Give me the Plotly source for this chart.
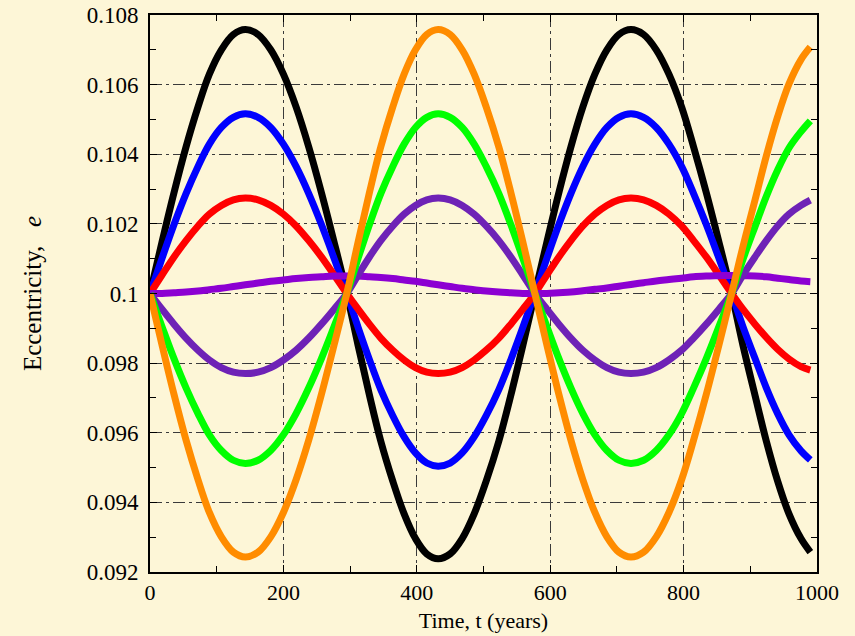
import plotly.graph_objects as go

# Time samples (years)
t = [0, 18, 36, 54, 72, 89, 107, 125, 143,
     162, 181, 200, 219, 238, 257, 276, 295,
     312, 329, 346, 364, 381, 398, 415, 432,
     450, 468, 486, 504, 523, 541, 559, 577,
     595, 613, 631, 649, 667, 685, 703, 721,
     740, 759, 778, 797, 815, 834, 853, 872,
     889, 907, 924, 941, 958, 976, 990]

black = [0.1, 0.10148, 0.1029, 0.10421, 0.10536, 0.1063, 0.107, 0.10744, 0.10758,
         0.10744, 0.107, 0.1063, 0.10536, 0.10421, 0.1029, 0.10148, 0.1,
         0.09851, 0.09708, 0.09576, 0.09461, 0.09367, 0.09296, 0.09252, 0.09238,
         0.09252, 0.09296, 0.09367, 0.09461, 0.09576, 0.09708, 0.09851, 0.1,
         0.10148, 0.1029, 0.10421, 0.10536, 0.1063, 0.107, 0.10744, 0.10758,
         0.10744, 0.107, 0.1063, 0.10536, 0.10421, 0.1029, 0.10148, 0.1,
         0.09851, 0.09708, 0.09576, 0.09461, 0.09367, 0.09296, 0.09257]
blue = [0.1, 0.10101, 0.10198, 0.10287, 0.10365, 0.10429, 0.10477, 0.10506, 0.10516,
        0.10506, 0.10477, 0.10429, 0.10365, 0.10287, 0.10198, 0.10101, 0.1,
        0.09903, 0.0981, 0.09724, 0.09649, 0.09588, 0.09542, 0.09513, 0.09504,
        0.09513, 0.09542, 0.09588, 0.09649, 0.09724, 0.0981, 0.09903, 0.1,
        0.10101, 0.10198, 0.10287, 0.10365, 0.10429, 0.10477, 0.10506, 0.10516,
        0.10506, 0.10477, 0.10429, 0.10365, 0.10287, 0.10198, 0.10101, 0.1,
        0.09905, 0.09814, 0.09729, 0.09655, 0.09594, 0.09548, 0.09522]
red = [0.1, 0.10053, 0.10105, 0.10152, 0.10194, 0.10228, 0.10253, 0.10269, 0.10274,
       0.10269, 0.10253, 0.10228, 0.10194, 0.10152, 0.10105, 0.10053, 0.1,
       0.09955, 0.09912, 0.09872, 0.09837, 0.09809, 0.09787, 0.09774, 0.0977,
       0.09774, 0.09787, 0.09809, 0.09837, 0.09872, 0.09912, 0.09955, 0.1,
       0.10053, 0.10105, 0.10152, 0.10194, 0.10228, 0.10253, 0.10269, 0.10274,
       0.10269, 0.10253, 0.10228, 0.10194, 0.10152, 0.10105, 0.10053, 0.1,
       0.09955, 0.09912, 0.09874, 0.0984, 0.09812, 0.0979, 0.0978]
violet = [0.1, 0.1, 0.10002, 0.10004, 0.10007, 0.10011, 0.10015, 0.1002, 0.10025,
          0.1003, 0.10035, 0.10039, 0.10043, 0.10046, 0.10048, 0.1005, 0.1005,
          0.1005, 0.10048, 0.10046, 0.10043, 0.10039, 0.10035, 0.1003, 0.10025,
          0.1002, 0.10015, 0.10011, 0.10007, 0.10004, 0.10002, 0.1, 0.1,
          0.1, 0.10002, 0.10004, 0.10008, 0.10012, 0.10016, 0.10021, 0.10026,
          0.10031, 0.10036, 0.1004, 0.10044, 0.10048, 0.1005, 0.10051, 0.10052,
          0.10051, 0.1005, 0.10048, 0.10044, 0.1004, 0.10036, 0.10034]
purple = [0.1, 0.09955, 0.09912, 0.09872, 0.09837, 0.09809, 0.09787, 0.09774, 0.0977,
          0.09774, 0.09787, 0.09809, 0.09837, 0.09872, 0.09912, 0.09955, 0.1,
          0.10053, 0.10105, 0.10152, 0.10194, 0.10228, 0.10253, 0.10269, 0.10274,
          0.10269, 0.10253, 0.10228, 0.10194, 0.10152, 0.10105, 0.10053, 0.1,
          0.09955, 0.09912, 0.09872, 0.09837, 0.09809, 0.09787, 0.09774, 0.0977,
          0.09774, 0.09787, 0.09809, 0.09837, 0.09872, 0.09912, 0.09955, 0.1,
          0.10053, 0.10105, 0.10152, 0.10194, 0.10228, 0.10253, 0.10268]
green = [0.1, 0.09905, 0.09813, 0.09729, 0.09655, 0.09594, 0.09549, 0.09521, 0.09512,
         0.09521, 0.09549, 0.09594, 0.09655, 0.09729, 0.09813, 0.09905, 0.1,
         0.10101, 0.10198, 0.10287, 0.10365, 0.10429, 0.10477, 0.10506, 0.10516,
         0.10506, 0.10477, 0.10429, 0.10365, 0.10287, 0.10198, 0.10101, 0.1,
         0.09905, 0.09813, 0.09729, 0.09655, 0.09594, 0.09549, 0.09521, 0.09512,
         0.09521, 0.09549, 0.09594, 0.09655, 0.09729, 0.09813, 0.09905, 0.1,
         0.10098, 0.10192, 0.10279, 0.10355, 0.10418, 0.10465, 0.10496]
orange = [0.1, 0.09852, 0.0971, 0.09579, 0.09465, 0.09371, 0.09301, 0.09257, 0.09243,
          0.09257, 0.09301, 0.09371, 0.09465, 0.09579, 0.0971, 0.09852, 0.1,
          0.10148, 0.1029, 0.10421, 0.10536, 0.1063, 0.107, 0.10744, 0.10758,
          0.10744, 0.107, 0.1063, 0.10536, 0.10421, 0.1029, 0.10148, 0.1,
          0.09852, 0.0971, 0.09579, 0.09465, 0.09371, 0.09301, 0.09257, 0.09243,
          0.09257, 0.09301, 0.09371, 0.09465, 0.09579, 0.0971, 0.09852, 0.1,
          0.10135, 0.10268, 0.10395, 0.10508, 0.10602, 0.10672, 0.10708]

x_tickvals = [0, 200, 400, 600, 800, 1000]
x_ticktext = ["0", "200", "400", "600", "800", "1000"]
y_tickvals = [0.092, 0.094, 0.096, 0.098, 0.1, 0.102, 0.104, 0.106, 0.108]
y_ticktext = ["0.092", "0.094", "0.096", "0.098", "0.1", "0.102", "0.104", "0.106", "0.108"]

series = [
    (black, "#000000"),
    (blue, "#0000ff"),
    (red, "#ff0000"),
    (violet, "#8c00d2"),
    (purple, "#6e22b6"),
    (green, "#00ff00"),
    (orange, "#ff8c00"),
]

BG = "#FDF6D7"
FONT = "Liberation Serif"

fig = go.Figure()
for ys, col in series:
    n = min(len(t), len(ys))
    fig.add_trace(go.Scatter(x=t[:n], y=ys[:n], mode="lines",
                             line=dict(color=col, width=7, shape="spline", smoothing=1.0),
                             showlegend=False, hoverinfo="skip"))

grid_dash = "12px,4px,3px,4px"
fig.update_layout(
    width=855, height=636,
    margin=dict(l=150, r=38, t=15, b=64),
    paper_bgcolor=BG, plot_bgcolor=BG,
    font=dict(family=FONT, size=22, color="black"),
    showlegend=False,
)
fig.update_xaxes(
    range=[0, 1000], tickvals=x_tickvals, ticktext=x_ticktext,
    automargin=False,
    showline=True, linecolor="black", linewidth=2, mirror="allticks",
    ticks="inside", ticklen=7, tickcolor="black",
    tickfont=dict(family=FONT, size=22),
    minor=dict(dtick=100, ticks="inside", ticklen=6, tickcolor="black", showgrid=False),
    showgrid=True, gridcolor="#3a3a3a", gridwidth=1, griddash=grid_dash,
    zeroline=False,
    title=dict(text="Time, t (years)", font=dict(family=FONT, size=22), standoff=8),
)
fig.update_yaxes(
    range=[0.092, 0.108], tickvals=y_tickvals, ticktext=y_ticktext,
    automargin=False,
    showline=True, linecolor="black", linewidth=2, mirror="allticks",
    ticks="inside", ticklen=7, tickcolor="black",
    tickfont=dict(family=FONT, size=23), ticklabelstandoff=5,
    minor=dict(dtick=0.001, tick0=0.092, ticks="inside", ticklen=6, tickcolor="black", showgrid=False),
    showgrid=True, gridcolor="#3a3a3a", gridwidth=1, griddash=grid_dash,
    zeroline=False,
    title=dict(text="Eccentricity,&nbsp;&nbsp;&nbsp;<i>e</i>", font=dict(family=FONT, size=25), standoff=38),
)

fig.write_html("out.html")
